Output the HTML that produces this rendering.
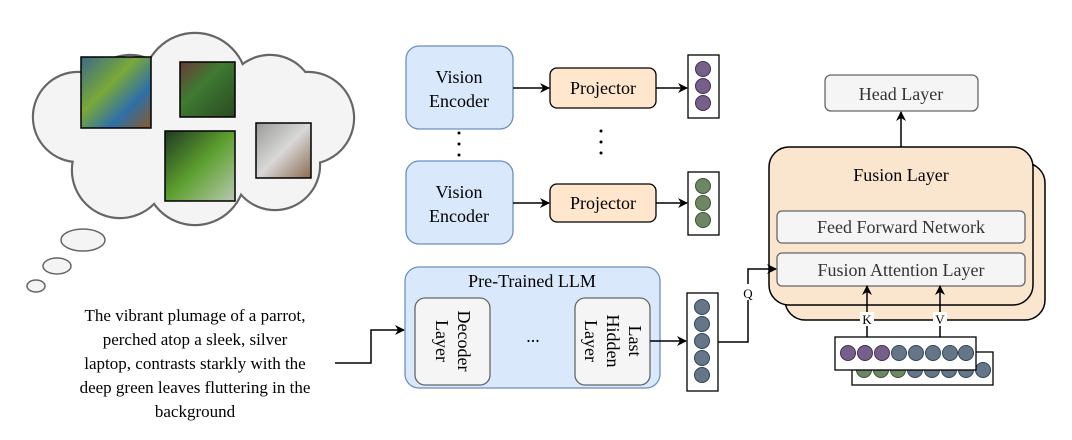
<!DOCTYPE html>
<html><head><meta charset="utf-8"><style>
html,body{margin:0;padding:0;background:#fff;}
svg{display:block;}
svg text{font-family:"Liberation Serif","DejaVu Serif","Noto Serif CJK SC",serif;}
</style></head><body>
<svg width="1072" height="440" viewBox="0 0 1072 440" xmlns="http://www.w3.org/2000/svg">
<defs>
<marker id="a" markerWidth="10" markerHeight="10" refX="9" refY="5" orient="auto" markerUnits="userSpaceOnUse"><path d="M0,0 L10,5 L0,10 L3,5 Z" fill="#000"/></marker>
<linearGradient id="g1" x1="0" y1="0" x2="1" y2="1"><stop offset="0" stop-color="#3a6a8a"/><stop offset="0.4" stop-color="#7aa838"/><stop offset="0.7" stop-color="#2f6fa8"/><stop offset="1" stop-color="#8a5a2a"/></linearGradient>
<linearGradient id="g2" x1="0" y1="0" x2="1" y2="1"><stop offset="0" stop-color="#6a3a3a"/><stop offset="0.4" stop-color="#3f7a32"/><stop offset="1" stop-color="#2a4a22"/></linearGradient>
<linearGradient id="g3" x1="0" y1="0" x2="1" y2="1"><stop offset="0" stop-color="#1f3a22"/><stop offset="0.5" stop-color="#5ea030"/><stop offset="1" stop-color="#b8c8b0"/></linearGradient>
<linearGradient id="g4" x1="0" y1="0" x2="1" y2="1"><stop offset="0" stop-color="#9a9a98"/><stop offset="0.5" stop-color="#d8d8d8"/><stop offset="1" stop-color="#8a6a50"/></linearGradient>
</defs>
<g stroke="#666" stroke-width="2.4" fill="#f4f4f4">
<circle cx="78" cy="117" r="45"/><circle cx="130" cy="100" r="45"/><circle cx="195" cy="85" r="52"/>
<circle cx="270" cy="100" r="45"/><circle cx="308" cy="118" r="46"/><circle cx="275" cy="165" r="45"/>
<circle cx="195" cy="175" r="50"/><circle cx="120" cy="170" r="48"/><circle cx="200" cy="125" r="60"/>
</g>
<g fill="#f4f4f4">
<circle cx="78" cy="117" r="44"/><circle cx="130" cy="100" r="44"/><circle cx="195" cy="85" r="51"/>
<circle cx="270" cy="100" r="44"/><circle cx="308" cy="118" r="45"/><circle cx="275" cy="165" r="44"/>
<circle cx="195" cy="175" r="49"/><circle cx="120" cy="170" r="47"/><circle cx="200" cy="125" r="59"/>
</g>
<g stroke="#666" stroke-width="1.5" fill="#f4f4f4">
<ellipse cx="83" cy="240" rx="22" ry="11"/><ellipse cx="57" cy="266" rx="14" ry="8"/><ellipse cx="36" cy="286" rx="9" ry="6"/>
</g>
<g stroke="#000" stroke-width="1.5">
<rect x="81" y="57" width="70" height="71" fill="url(#g1)"/>
<rect x="180" y="62" width="55" height="55" fill="url(#g2)"/>
<rect x="165" y="131" width="70" height="70" fill="url(#g3)"/>
<rect x="256" y="123" width="55" height="55" fill="url(#g4)"/>
</g>
<g font-size="17" text-anchor="middle" fill="#000">
<text x="195" y="321">The vibrant plumage of a parrot,</text>
<text x="195" y="345">perched atop a sleek, silver</text>
<text x="195" y="369">laptop, contrasts starkly with the</text>
<text x="195" y="393">deep green leaves fluttering in the</text>
<text x="195" y="417">background</text>
</g>
<path d="M335,363 H371 V330 H404" fill="none" stroke="#000" stroke-width="1.5" marker-end="url(#a)"/>
<g fill="#dae8fc" stroke="#6c8ebf" stroke-width="1.3">
<rect x="406" y="46" width="107" height="83" rx="13"/>
<rect x="406" y="161" width="107" height="83" rx="13"/>
</g>
<g font-size="18" text-anchor="middle">
<text x="459" y="83">Vision</text><text x="459" y="107">Encoder</text>
<text x="459" y="198">Vision</text><text x="459" y="222">Encoder</text>
</g>
<g fill="#000"><circle cx="459" cy="133" r="1.5"/><circle cx="459" cy="144" r="1.5"/><circle cx="459" cy="155" r="1.5"/>
<circle cx="601" cy="131" r="1.5"/><circle cx="601" cy="142" r="1.5"/><circle cx="601" cy="153" r="1.5"/></g>
<g fill="#ffe6cc" stroke="#000" stroke-width="1.3">
<rect x="550" y="68" width="106" height="40" rx="7"/>
<rect x="550" y="184" width="106" height="38" rx="7"/>
</g>
<g font-size="18" text-anchor="middle"><text x="603" y="94">Projector</text><text x="603" y="209">Projector</text></g>
<g stroke="#000" stroke-width="1.5" marker-end="url(#a)">
<line x1="513" y1="88" x2="549" y2="88"/><line x1="513" y1="203" x2="549" y2="203"/>
<line x1="656" y1="88" x2="687" y2="88"/><line x1="656" y1="203" x2="687" y2="203"/>
</g>
<g fill="#fff" stroke="#000" stroke-width="1.3">
<rect x="688" y="55" width="31" height="63"/><rect x="688" y="172" width="31" height="63"/>
<rect x="687" y="293" width="31" height="98"/>
</g>
<g fill="#76608a" stroke="#432d57" stroke-width="1"><circle cx="703" cy="69" r="7.5"/><circle cx="703" cy="86" r="7.5"/><circle cx="703" cy="103" r="7.5"/></g>
<g fill="#6d8764" stroke="#3a5431" stroke-width="1"><circle cx="703" cy="186" r="7.5"/><circle cx="703" cy="203" r="7.5"/><circle cx="703" cy="220" r="7.5"/></g>
<g fill="#647687" stroke="#314354" stroke-width="1"><circle cx="702" cy="307" r="7.5"/><circle cx="702" cy="324" r="7.5"/><circle cx="702" cy="341" r="7.5"/><circle cx="702" cy="358" r="7.5"/><circle cx="702" cy="375" r="7.5"/></g>
<rect x="405" y="267" width="255" height="121" rx="14" fill="#dae8fc" stroke="#6c8ebf" stroke-width="1.3"/>
<text x="532" y="287" font-size="18" text-anchor="middle">Pre-Trained LLM</text>
<g fill="#f5f5f5" stroke="#666" stroke-width="1.3">
<rect x="415" y="298" width="75" height="87" rx="10"/><rect x="575" y="298" width="75" height="87" rx="10"/>
</g>
<g font-size="18" text-anchor="middle">
<text transform="translate(452,341) rotate(90)"><tspan x="0" y="-6">Decoder</tspan><tspan x="0" y="16">Layer</tspan></text>
<text transform="translate(612,341) rotate(90)"><tspan x="0" y="-17">Last</tspan><tspan x="0" y="5">Hidden</tspan><tspan x="0" y="27">Layer</tspan></text>
<text x="533" y="342">...</text>
</g>
<line x1="650" y1="341" x2="686" y2="341" stroke="#000" stroke-width="1.5" marker-end="url(#a)"/>
<rect x="785" y="163" width="260" height="157" rx="20" fill="#fae5cf" stroke="#000" stroke-width="1.5"/>
<rect x="769" y="147" width="264" height="158" rx="20" fill="#fae5cf" stroke="#000" stroke-width="1.5"/>
<text x="901" y="181" font-size="18" text-anchor="middle">Fusion Layer</text>
<g fill="#f5f5f5" stroke="#666" stroke-width="1.3">
<rect x="777" y="211" width="248" height="32" rx="5"/><rect x="777" y="253" width="248" height="33" rx="5"/>
<rect x="825" y="75" width="153" height="36" rx="6"/>
</g>
<g font-size="18" text-anchor="middle" fill="#333">
<text x="901" y="233">Feed Forward Network</text><text x="901" y="276">Fusion Attention Layer</text>
<text x="901" y="100">Head Layer</text>
</g>
<line x1="901" y1="147" x2="901" y2="112" stroke="#000" stroke-width="1.5" marker-end="url(#a)"/>
<path d="M718,342 H748 V269 H776" fill="none" stroke="#000" stroke-width="1.5" marker-end="url(#a)"/>
<rect x="740" y="284" width="16" height="16" fill="#fff"/>
<text x="748" y="298" font-size="13" text-anchor="middle">Q</text>
<rect x="852" y="352" width="141" height="33" fill="#fff" stroke="#000" stroke-width="1.3"/>
<g fill="#6d8764" stroke="#3a5431"><circle cx="864" cy="370" r="7.5"/><circle cx="881" cy="370" r="7.5"/><circle cx="898" cy="370" r="7.5"/></g>
<g fill="#647687" stroke="#314354"><circle cx="915" cy="370" r="7.5"/><circle cx="932" cy="370" r="7.5"/><circle cx="949" cy="370" r="7.5"/><circle cx="966" cy="370" r="7.5"/><circle cx="983" cy="370" r="7.5"/></g>
<rect x="835" y="337" width="141" height="33" fill="#fff" stroke="#000" stroke-width="1.3"/>
<g fill="#76608a" stroke="#432d57"><circle cx="848" cy="353" r="7.5"/><circle cx="865" cy="353" r="7.5"/><circle cx="882" cy="353" r="7.5"/></g>
<g fill="#647687" stroke="#314354"><circle cx="899" cy="353" r="7.5"/><circle cx="916" cy="353" r="7.5"/><circle cx="933" cy="353" r="7.5"/><circle cx="950" cy="353" r="7.5"/><circle cx="966" cy="353" r="7.5"/></g>
<g stroke="#000" stroke-width="1.5" marker-end="url(#a)">
<line x1="867" y1="337" x2="867" y2="286"/><line x1="940" y1="337" x2="940" y2="286"/>
</g>
<rect x="860" y="312" width="14" height="14" fill="#fff"/><rect x="933" y="312" width="14" height="14" fill="#fff"/>
<text x="867" y="324" font-size="13" text-anchor="middle">K</text>
<text x="940" y="324" font-size="13" text-anchor="middle">V</text>
</svg>
</body></html>
